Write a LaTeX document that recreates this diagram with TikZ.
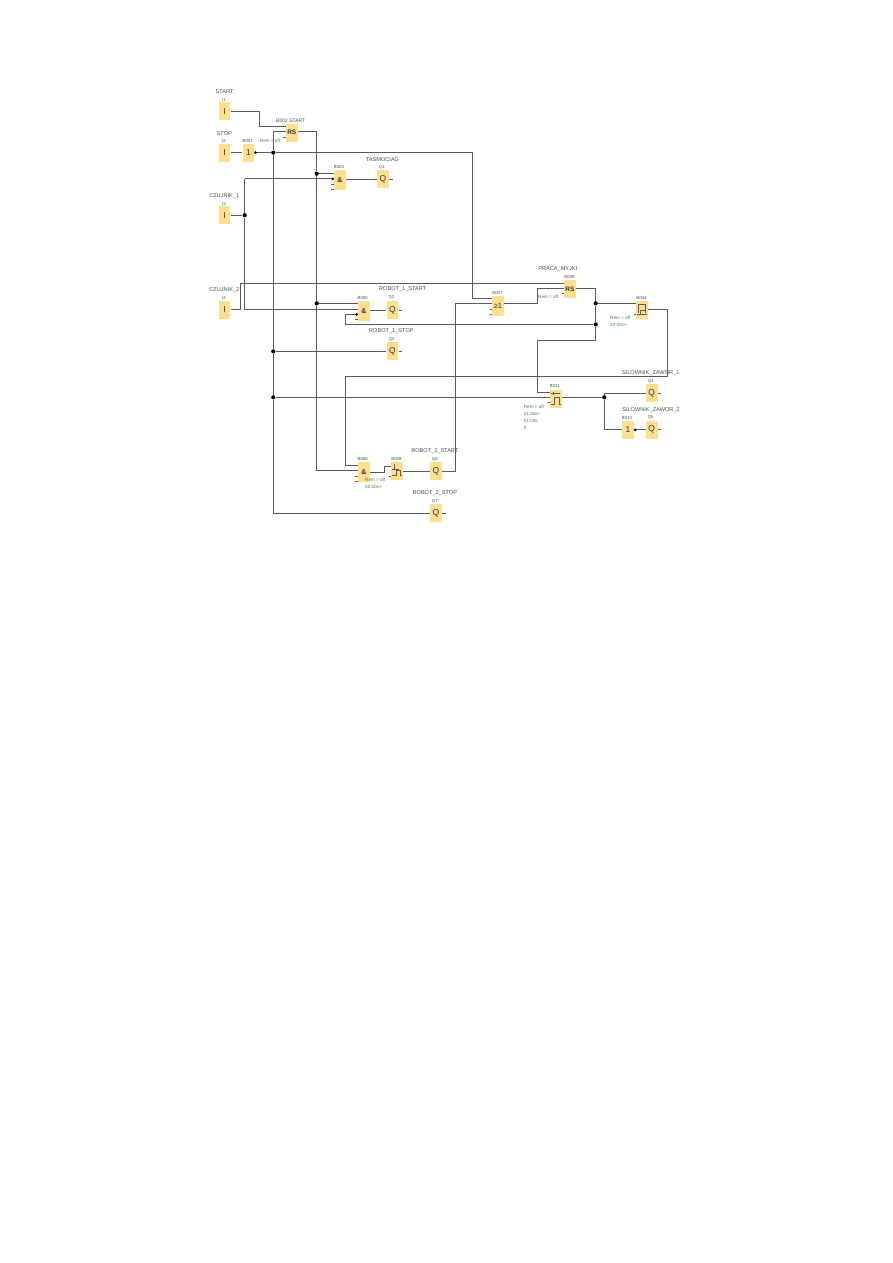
\documentclass[tikz,border=0pt]{standalone}
\usepackage{fontspec}
\setmainfont{Liberation Sans}
\usetikzlibrary{calc, positioning}

\definecolor{blockfill}{HTML}{FFDE8F}
\definecolor{wirecol}{HTML}{5A5A5A}
\definecolor{remcol}{HTML}{4A7A55}

\tikzset{
    block/.style={fill=blockfill, minimum width=11.7pt, minimum height=18pt, inner sep=0pt, text=black!80, font=\fontsize{8.5}{9}\selectfont},
    tallblock/.style={block, minimum height=20pt, font=\fontsize{7}{8}\selectfont\bfseries},
    rsblock/.style={block, font=\fontsize{6.5}{7}\selectfont\bfseries},
    wire/.style={draw=wirecol, line width=0.75pt},
    symb/.style={draw=wirecol, line width=0.6pt},
    tag/.style={font=\fontsize{5.6}{6}\selectfont, text=black!70, inner sep=0pt},
    small/.style={font=\fontsize{4.3}{5}\selectfont, text=black!70, inner sep=0pt},
    rem/.style={font=\fontsize{4.6}{5}\selectfont, text=remcol, inner sep=0pt, anchor=west},
    dot/.style={circle, fill=black, inner sep=0pt, minimum size=4.2pt},
    pin/.style={circle, fill=black, inner sep=0pt, minimum size=3pt}
}

\begin{document}
\begin{tikzpicture}[x=1pt, y=-1pt]

        \useasboundingbox[fill=white] (0,0) rectangle (893,1263);

        % ==========================================
        % BLOCCHI
        % ==========================================

        % Ingressi
        \node[block] (I1) at (224.5,111.4) {I};
        \node[block] (I2) at (224.5,152.6) {I};
        \node[block] (I3) at (224.5,215.2) {I};
        \node[block] (I4) at (224.5,309.8) {I};

        % Porte logiche
        \node[block] (B001) at (248.5,152.6) {1};
        \node[rsblock] (B002) at (291.8,132.7) {RS};
        \node[tallblock] (B003) at (340,180.4) {\&};
        \node[tallblock] (B005) at (364,311) {\&};
        \node[tallblock] (B006) at (364,472.2) {\&};
        \node[tallblock, font=\fontsize{7.5}{8}\selectfont] (B007) at (498,305.5) {≥1};
        \node[rsblock] (B009) at (570,288.8) {RS};
        \node[block] (B010) at (628,429.8) {1};

        % Temporizzatori
        \node[block] (B008) at (397.3,471.2) {};
        \node[block] (B004) at (642,309.6) {};
        \node[block] (B011) at (555.8,398.8) {};

        % Uscite
        \node[block] (Q1) at (383,179.4) {Q};
        \node[block] (Q2) at (392.5,310) {Q};
        \node[block] (Q3) at (392.5,351.4) {Q};
        \node[block] (Q4) at (651.7,393) {Q};
        \node[block] (Q5) at (651.7,429.8) {Q};
        \node[block] (Q6) at (436,471.2) {Q};
        \node[block] (Q7) at (436,513) {Q};

        % Simboli dei temporizzatori
        \draw[symb] (B008.center) ++(-3,-7) -- ++(0,5) ++(-2.5,0) -- ++(7.5,0)
            (B008.center) ++(-5,4) -- ++(3.5,0) -- ++(0,-5) -- ++(4,0) -- ++(0,5) -- ++(2,0);
        \draw[symb] (B004.center) ++(-3.8,3.8) -- ++(0,-9) -- ++(7,0) -- ++(0,9)
            (B004.center) ++(-5.5,4.4) -- ++(10.5,0) (B004.center) ++(-1.5,4.4) -- ++(0,-3.5) -- ++(4.7,0);
        \draw[symb] (B011.center) ++(-4.7,-5.3) -- ++(9,0) (B011.center) ++(-2.3,-6.6) -- ++(0,3)
            (B011.center) ++(-4.7,5.3) -- ++(3,0) -- ++(0,-6.6) -- ++(5,0) -- ++(0,6.6) -- ++(1.7,0);

        % ==========================================
        % PUNTI DI GIUNZIONE
        % ==========================================

        \node[dot] (jA) at (273.3,152.6) {};
        \node[dot] (jB) at (273.3,351.4) {};
        \node[dot] (jC) at (273.3,397.3) {};
        \node[dot] (jD) at (316.7,173.7) {};
        \node[dot] (jE) at (316.7,303.3) {};
        \node[dot] (jF) at (244.7,215.2) {};
        \node[dot] (jG) at (595.7,303.3) {};
        \node[dot] (jH) at (595.7,324.4) {};
        \node[dot] (jI) at (604.3,397.3) {};

        % Curve dei collegamenti
        \coordinate (bStart) at (259.3,126.7);
        \coordinate (bSet) at (273.3,131.3);
        \coordinate (bOut) at (316.7,131.3);
        \coordinate (bLow) at (316.7,470);
        \coordinate (bStop) at (273.3,513);
        \coordinate (bRight) at (472.3,152.6);
        \coordinate (bOrIn) at (472.3,298.3);
        \coordinate (bSens) at (244.7,178.8);
        \coordinate (bSensLow) at (244.7,309.2);
        \coordinate (bTop) at (240.3,283.3);
        \coordinate (bLoopA) at (345.7,314.3);
        \coordinate (bLoopB) at (345.7,324.4);
        \coordinate (bFar) at (345.7,376.2);
        \coordinate (bFarLow) at (345.7,465);
        \coordinate (bFarEnd) at (667.7,376.2);
        \coordinate (bFarTop) at (667.7,309.6);
        \coordinate (bBack) at (455.7,303.3);
        \coordinate (bBackLow) at (455.7,471.2);
        \coordinate (bOr) at (537.3,303.3);
        \coordinate (bOrUp) at (537.3,288.3);
        \coordinate (bRsOut) at (595.7,288.3);
        \coordinate (bDown) at (595.7,340);
        \coordinate (bLeft) at (537.3,340);
        \coordinate (bPulse) at (537.3,392.3);
        \coordinate (bUp) at (604.3,393);
        \coordinate (bDn) at (604.3,429.8);
        \coordinate (bStepA) at (384.3,472.2);
        \coordinate (bStepB) at (384.3,466);

        % ==========================================
        % COLLEGAMENTI
        % ==========================================

        \draw[wire] (I1) -| (bStart) -- (bStart -| B002.west);
        \draw[wire] (I2) -- (B001);
        \draw[wire] (B001) -- (jA) -- (bRight) -- (bOrIn) -- (bOrIn -| B007.west);
        \draw[wire] (B002.west |- bSet) -- (bSet) -- (jA) -- (jB) -- (jC) -- (bStop) -- (Q7);
        \draw[wire] (B002.east |- bOut) -- (bOut) -- (jD) -- (jE) -- (bLow) -- (B006.west |- bLow);
        \draw[wire] (jD) -- (B003.west |- jD);
        \draw[wire] (bSens) -- (B003.west |- bSens);
        \draw[wire] (B003.east |- Q1) -- (Q1);
        \draw[wire] (I3) -- (jF);
        \draw[wire] (bSens) -- (jF) -- (bSensLow) -- (B005.west |- bSensLow);
        \draw[wire] (jE) -- (B005.west |- jE);
        \draw[wire] (I4) -- (I4 -| bTop) -- (bTop) -- (B009.west |- bTop);
        \draw[wire] (B005.east |- Q2) -- (Q2);
        \draw[wire] (B005.west |- bLoopA) -- (bLoopA) -- (bLoopB) -- (jH);
        \draw[wire] (jB) -- (Q3);
        \draw[wire] (bFarLow -| B006.west) -- (bFarLow) -- (bFar) -- (bFarEnd) -- (bFarTop) -- (B004.east |- bFarTop);
        \draw[wire] (B006.east |- bStepA) -- (bStepA) -- (bStepB) -- (B008.west |- bStepB);
        \draw[wire] (B008) -- (Q6);
        \draw[wire] (Q6) -- (Q6 -| bBackLow) -- (bBack) -- (B007.west |- bBack);
        \draw[wire] (B007.east |- bOr) -- (bOr) -- (bOrUp) -- (B009.west |- bOrUp);
        \draw[wire] (B009.east |- bRsOut) -- (bRsOut) -- (jG) -- (jH) -- (bDown) -- (bLeft) -- (bPulse) -- (B011.west |- bPulse);
        \draw[wire] (jG) -- (B004.west |- jG);
        \draw[wire] (jC) -- (B011.west |- jC);
        \draw[wire] (B011.east |- jC) -- (jI);
        \draw[wire] (jI) -- (bUp) -- (Q4);
        \draw[wire] (jI) -- (bDn) -- (B010);
        \draw[wire] (B010) -- (Q5);

        % Piedini liberi
        \foreach \name/\px/\py in {B002/282.8/137, B003/331/184.7, B003/331/189, B005/355/319.3, B006/355/476, B006/355/481,
            B007/489.5/309.3, B007/489.5/314, B009/561.7/293, B004/634/314.5, B011/547.5/402.3, B008/389/476} {
            \coordinate (stub) at (\px,\py);
            \draw[wire] (stub) -- (\name.west |- stub);
        }
        \foreach \name in {Q1, Q2, Q3, Q4, Q5, Q6, Q7} {
            \draw[wire] (\name.east) -- ++(3.5,0);
        }

        % Ingressi negati
        \node[pin] (nA) at (255.5,152.6) {};
        \node[pin] (nB) at (332.7,178.8) {};
        \node[pin] (nC) at (356.7,314.3) {};
        \node[pin] (nD) at (635.2,429.8) {};

        % ==========================================
        % ETICHETTE
        % ==========================================

        \node[tag] (tStart) at (224.6,91.4) {START};
        \node[tag] (tStop) at (224.3,133.4) {STOP};
        \node[tag] (tCz1) at (224.2,196) {CZUJNIK\_1};
        \node[tag] (tCz2) at (224.3,289.6) {CZUJNIK\_2};
        \node[tag] (tTas) at (382.5,159.4) {TASMOCIAG};
        \node[tag] (tRob1) at (402.7,289.4) {ROBOT\_1\_START};
        \node[tag] (tRob1s) at (391.4,331.4) {ROBOT\_1\_STOP};
        \node[tag] (tRob2) at (434.8,451.4) {ROBOT\_2\_START};
        \node[tag] (tRob2s) at (434.8,493.4) {ROBOT\_2\_STOP};
        \node[tag] (tPraca) at (557.8,269) {PRACA\_MYJKI};
        \node[tag] (tZaw1) at (650.7,373.4) {SILOWNIK\_ZAWOR\_1};
        \node[tag] (tZaw2) at (651,409.8) {SILOWNIK\_ZAWOR\_2};

        \node[small] (lI1) at (224,99.7) {I1};
        \node[small] (lI2) at (224,141) {I2};
        \node[small] (lI3) at (224,203.7) {I3};
        \node[small] (lI4) at (224,297.7) {I4};
        \node[small] (lB1) at (247.7,141) {B001};
        \node[small, font=\fontsize{5}{6}\selectfont] (lB2) at (290.7,120.4) {B002 START};
        \node[small] (lB3) at (339,167) {B003};
        \node[small] (lB5) at (362.7,297.7) {B005};
        \node[small] (lB6) at (362.7,459) {B006};
        \node[small] (lB8) at (396.4,459) {B008};
        \node[small] (lB7) at (497.4,292.7) {B007};
        \node[small] (lB9) at (569.4,277) {B009};
        \node[small] (lB4) at (641.4,298) {B004};
        \node[small] (lB11) at (554.8,386.4) {B011};
        \node[small] (lB10) at (627,417.7) {B010};
        \node[small] (lQ1) at (382,167) {Q1};
        \node[small] (lQ2) at (391.4,297.7) {Q2};
        \node[small] (lQ3) at (391.4,339) {Q3};
        \node[small] (lQ4) at (651,381) {Q4};
        \node[small] (lQ5) at (650.7,417.7) {Q5};
        \node[small] (lQ6) at (434.8,459.3) {Q6};
        \node[small] (lQ7) at (434.8,501) {Q7};

        % Parametri in verde
        \node[rem] (rB2) at (259.8,140.7) {Rem = off};
        \node[rem] (rB9) at (538,297) {Rem = off};
        \node[rem] (rB4) at (610,318) {Rem = off};
        \node[rem] (rB4t) at (610,325) {20:00s+};
        \node[rem] (rB8) at (365,479.7) {Rem = off};
        \node[rem] (rB8t) at (365,486.7) {00:50s+};
        \node[rem] (rB11) at (523.7,406.7) {Rem = off};
        \node[rem] (rB11a) at (523.7,413.7) {01:00s+};
        \node[rem] (rB11b) at (523.7,421) {01:00s};
        \node[rem] (rB11c) at (523.7,428.3) {0};

\end{tikzpicture}
\end{document}
